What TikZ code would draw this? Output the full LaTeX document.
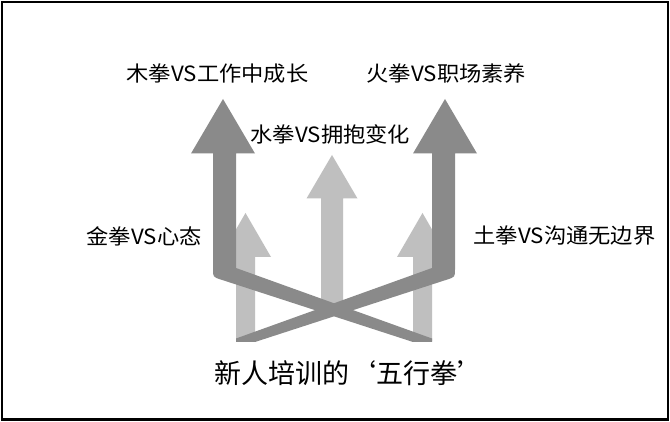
\documentclass[tikz,border=0pt]{standalone}
\usepackage{fontspec}
\newfontfamily\cjk{Noto Sans CJK SC}
\definecolor{darkarrow}{RGB}{138,138,138}
\definecolor{lightarrow}{RGB}{191,191,191}
\begin{document}
\begin{tikzpicture}[x=1pt,y=-1pt,
  darkfill/.style={fill=darkarrow,draw=none},
  lightfill/.style={fill=lightarrow,draw=none},
  lbl/.style={font=\cjk\fontsize{21}{25}\selectfont, inner sep=0pt, xscale=1.06, text=black, anchor=west},
  ttl/.style={font=\cjk\fontsize{27}{31}\selectfont, inner sep=0pt, text=black, anchor=west}]
\useasboundingbox (0,0) rectangle (670,422);
\fill[white] (0,0) rectangle (670,422);
\draw[line width=2.5pt] (2,2) rectangle (668,419.5);
% light arrows
\fill[lightfill] (236,341) -- (236,257) -- (220,257) -- (245.5,213) -- (271,257) -- (255,257) -- (255,341) -- cycle;
\fill[lightfill] (413,341) -- (413,257) -- (397,257) -- (422.5,213) -- (448,257) -- (432,257) -- (432,341) -- cycle;
\fill[lightfill] (321,312) -- (321,198.5) -- (306.5,198.5) -- (332,155) -- (357.5,198.5) -- (343,198.5) -- (343,312) -- cycle;
% dark arrows
\fill[darkfill] (213,153.5) -- (191,153.5) -- (223,99) -- (255,153.5) -- (236,153.5) -- (236,268) -- (432,338.5) -- (432,342) -- (413,342) -- (221,279.6) .. controls (213,277) .. (213,269) -- cycle;
\fill[darkfill] (455,153.5) -- (477,153.5) -- (445,99) -- (413,153.5) -- (432,153.5) -- (432,268) -- (236,338.5) -- (236,342) -- (255,342) -- (447,279.6) .. controls (455,277) .. (455,269) -- cycle;
% labels
\node[lbl] (mu) at (126.5,73.5) {木拳VS工作中成长};
\node[lbl] (huo) at (366.5,73.5) {火拳VS职场素养};
\node[lbl] (shui) at (250.5,134) {水拳VS拥抱变化};
\node[lbl] (jin) at (86.5,236) {金拳VS心态};
\node[lbl] (tu) at (473.5,236) {土拳VS沟通无边界};
\node[ttl] (title) at (214,373.5) {新人培训的‘五行拳’};
\end{tikzpicture}
\end{document}
